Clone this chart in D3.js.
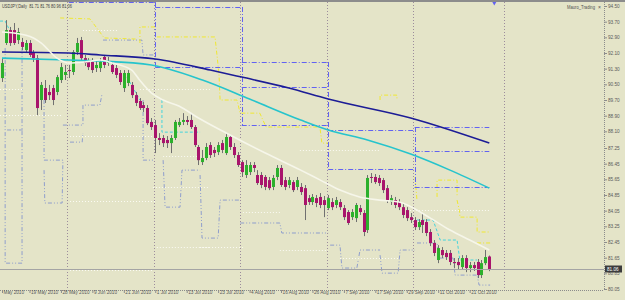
<!DOCTYPE html>
<html><head><meta charset="utf-8">
<script src="https://cdn.jsdelivr.net/npm/d3@7"></script>
<style>html,body{margin:0;padding:0;background:#e4e4c8;}svg{display:block}</style>
</head><body>
<svg id="c" width="625" height="300"></svg>
<script>
// ---- data (daily USDJPY bars, index 0..124) ----
const opens = [90.82,92.61,93.27,93.27,92.76,92.66,92.25,92.61,92.10,91.84,
89.70,90.31,90.11,90.31,90.11,90.72,90.98,91.23,91.13,92.15,
92.76,91.84,91.64,91.64,91.33,91.33,91.90,91.59,91.49,91.33,
91.08,90.31,90.57,90.47,89.95,89.65,89.44,89.29,88.58,88.42,
87.76,87.76,87.66,87.50,87.76,88.42,88.58,88.68,88.68,88.32,
87.30,86.53,86.74,87.40,87.15,87.04,87.50,86.99,87.81,87.30,
86.89,86.53,85.87,86.02,86.38,85.87,85.87,85.77,85.61,85.26,
85.77,86.23,85.61,85.36,85.51,85.26,85.26,85.20,84.69,84.49,
84.69,84.75,84.59,84.18,84.49,84.34,84.49,84.18,83.98,83.72,
83.67,84.18,83.93,83.06,85.77,85.77,85.72,85.61,85.20,84.49,
84.59,84.49,84.23,84.08,83.72,83.57,83.21,83.57,83.47,82.96,
82.40,81.53,82.04,81.89,81.89,81.43,81.43,81.17,81.63,81.12,
81.27,81.43,80.76,81.37,81.71];
const highs = [91.84,93.78,93.43,93.63,93.38,92.87,92.76,92.76,92.25,92.00,
90.62,90.72,90.47,90.47,90.98,91.59,91.49,91.49,92.25,92.87,
92.92,92.00,91.84,91.84,91.74,91.84,92.00,91.90,91.64,91.49,
91.23,91.23,91.23,90.62,90.11,89.80,89.60,89.44,88.78,88.68,
88.01,87.91,87.86,87.91,88.68,88.78,89.03,88.88,89.03,88.42,
87.40,87.15,87.50,87.55,87.30,87.55,87.66,88.01,87.91,87.50,
87.04,86.63,86.63,86.53,86.53,86.12,86.02,85.87,85.77,85.87,
86.38,86.38,85.77,85.77,85.61,85.77,85.46,85.36,84.85,84.90,
84.85,84.95,84.80,84.85,84.69,84.75,84.64,84.34,84.08,84.13,
84.44,84.34,84.08,85.87,85.97,85.92,85.87,85.72,85.36,84.85,
84.75,84.64,84.39,84.23,83.93,83.72,83.62,83.93,83.62,83.11,
82.55,82.29,82.19,82.04,82.04,81.63,81.63,81.78,81.78,81.43,
81.43,81.58,81.53,82.04,81.76];
const lows = [90.62,92.51,92.46,92.51,92.56,92.25,92.10,91.90,91.64,88.93,
89.19,89.55,89.70,89.44,89.95,90.57,90.72,90.82,90.98,92.00,
91.74,91.44,91.23,91.08,91.13,91.13,91.33,91.44,91.03,90.82,
90.47,90.11,90.41,89.80,89.39,89.19,89.09,88.42,88.17,86.99,
87.40,87.30,87.25,86.99,87.66,88.32,88.42,88.42,88.22,87.30,
86.38,86.38,86.63,86.74,86.79,86.89,86.99,86.89,87.15,86.74,
86.28,85.77,85.72,85.87,86.02,85.36,85.20,85.10,85.10,85.10,
85.61,85.26,85.10,85.20,85.00,85.10,84.85,83.57,84.34,84.34,
84.23,84.18,83.72,84.08,84.08,84.18,84.08,83.57,83.32,83.57,
83.47,83.83,82.75,82.91,85.46,85.41,85.31,84.95,84.44,84.34,
84.18,84.08,83.67,83.52,83.42,83.06,83.06,82.91,82.75,82.24,
81.73,81.37,81.63,81.53,81.27,81.12,81.02,81.02,80.91,80.91,
80.97,80.61,80.61,81.27,80.96];
const closes = [91.59,93.27,92.61,92.61,93.17,92.41,92.61,92.00,91.84,89.29,
90.47,89.70,89.95,89.70,90.87,91.38,91.13,91.18,92.15,92.61,
91.84,91.59,91.38,91.23,91.49,91.64,91.49,91.69,91.13,90.98,
90.62,91.08,91.08,89.95,89.55,89.29,89.29,88.52,88.32,87.76,
87.66,87.50,87.50,87.76,88.58,88.58,88.68,88.58,88.32,87.40,
86.63,86.74,87.30,86.89,86.99,87.40,87.15,87.81,87.30,86.89,
86.38,86.02,86.38,86.38,86.23,85.46,85.36,85.26,85.20,85.72,
86.23,85.36,85.26,85.61,85.10,85.61,85.00,84.34,84.49,84.75,
84.44,84.34,84.34,84.69,84.23,84.59,84.23,83.72,83.42,83.98,
84.34,83.98,82.96,85.72,85.72,85.51,85.46,85.10,84.59,84.69,
84.34,84.23,83.83,83.67,83.57,83.21,83.47,83.32,82.91,82.40,
81.89,82.14,81.78,81.68,81.43,81.37,81.27,81.63,81.12,81.27,
81.12,80.76,81.37,81.68,81.06];

// moving averages read at sample bars [bar, price]
const maSlow = [[0,92.15],[17,92.10],[25,92.00],[39,91.79],[53,91.23],[61,90.87],[73,90.31],[83,89.75],[104,88.78],[124,87.50]];
const maMid  = [[0,91.84],[17,91.74],[25,91.69],[38,91.49],[51,90.72],[63,89.75],[76,88.68],[83,88.17],[93,87.66],[104,86.94],[114,86.12],[124,85.20]];
const maFast = [[0,93.17],[3,93.12],[8,92.87],[10,92.61],[14,91.84],[17,91.59],[21,91.64],[25,91.74],[28,91.59],[33,91.23],[35,90.72],[38,90.06],[41,89.70],[45,89.39],[50,88.78],[59,87.81],[67,86.99],[76,86.12],[81,85.61],[86,85.10],[91,84.75],[96,84.59],[101,84.49],[109,83.67],[114,83.06],[119,82.55],[124,82.04]];

// monthly levels (blue)
const monthStart = [17, 39, 61, 83, 105];
const monthEnd   = [39, 61, 83, 105, 124];
const blueLevels = [[94.70],[94.45,91.38],[91.64,90.36,88.42],[88.17,86.18],[88.32,87.09,85.26]];
const separators = [17, 39, 61, 83, 105, 128];

// other indicator step lines, vertices as [bar, price]
const yellowLines = [
 [[14.8,93.89],[22.4,93.84],[26.0,92.87],[34.4,92.81]],
 [[35.1,92.61],[35.1,93.43],[38.9,93.43]],
 [[39.4,92.92],[54.2,92.92],[55.2,91.08],[55.5,89.70],[59.8,89.70],[60.6,89.03],[65.6,89.03],[67.2,88.32],[80.9,88.32],[81.4,87.50],[83.0,87.50]],
 [[96.2,89.70],[96.2,89.95],[100.5,89.95],[100.5,89.70]],
 [[105.1,85.77],[105.6,84.59]],
 [[110.7,84.75],[110.7,85.61],[115.8,85.61],[115.8,84.75]],
 [[115.8,84.59],[116.5,83.93],[116.5,83.72],[120.9,83.72],[120.9,82.96],[124.2,82.96]],
 [[120.9,82.40],[124.2,82.40]]
];
const whiteLevels = [ // [fromBar, toBar, price]
 [20.6,29.3,93.27],[-0.5,5.1,90.26],[35.1,52.9,90.26],[-0.5,15.5,88.93],[17.3,38.4,87.86],
 [41.0,50.4,86.84],[38.4,52.9,85.26],[17.3,39.4,84.54],[39.4,52.9,82.19],[17.3,38.4,81.02],
 [61.3,70.7,83.98],[50.4,61.3,82.19],[70.7,83.0,82.04],[86.0,101.3,81.63],[103.8,124.2,84.08],[75.8,96.2,87.15]
];
const cyanLines = [
 [[-0.5,93.73],[0.8,93.73],[2.3,93.12],[3.3,93.12]],
 [[31.8,90.87],[35.1,89.70]],
 [[40.7,89.70],[40.7,88.06],[50.4,88.06]],
 [[105.6,83.57],[109.7,83.57],[111.5,82.55],[115.8,82.55],[116.5,81.53],[120.9,81.53]]
];
const bandLines = [
 [[0.8,92.35],[0.8,81.37],[5.1,81.37],[5.1,92.35]],
 [[1.3,88.17],[5.3,88.17]],
 [[10.7,89.70],[10.7,86.63],[15.5,86.63]],
 [[10.7,86.12],[10.9,84.44],[15.3,84.44],[15.5,86.63]],
 [[15.5,88.42],[20.6,88.42],[20.6,89.44],[24.9,89.44],[25.4,89.95]],
 [[17.3,87.55],[20.4,87.55],[20.6,88.01]],
 [[25.7,92.76],[35.6,92.76],[35.9,92.00],[38.9,92.00]],
 [[35.9,89.70],[35.9,86.63],[38.9,86.63]],
 [[41.0,86.63],[41.5,84.23],[45.3,84.23],[45.8,86.12],[50.4,86.12]],
 [[50.4,85.87],[50.9,82.65],[55.0,82.65],[55.5,84.59],[60.6,84.59]],
 [[60.6,83.42],[70.7,83.42],[71.2,82.91],[83.0,82.91]],
 [[83.5,82.29],[86.0,82.29],[86.5,81.12],[90.3,81.12],[91.1,82.04],[96.2,82.04]],
 [[96.2,81.78],[96.7,80.86],[100.8,80.86],[101.3,82.04],[105.1,82.04]],
 [[105.6,82.40],[110.7,82.40],[111.2,81.63],[114.8,81.63],[115.3,80.76],[120.9,80.76],[121.4,80.25],[124.2,80.25]]
];

// tick labels
const priceTicks = [94.50,93.70,92.90,92.10,91.30,90.50,89.70,88.90,88.10,87.25,86.45,85.65,84.85,84.05,83.25,82.45,81.65,80.85,80.05];
const dateBars = [0,7,15,23,31,39,47,55,63,71,79,87,95,103,111,119];
const dateLabels = ["May 2010","19 May 2010","28 May 2010","9 Jun 2010","21 Jun 2010","1 Jul 2010","13 Jul 2010","23 Jul 2010","4 Aug 2010","16 Aug 2010","26 Aug 2010","7 Sep 2010","17 Sep 2010","29 Sep 2010","11 Oct 2010","21 Oct 2010"];
const lastPrice = 81.06;
const headerText = "USDJPY,Daily  81.71 81.76 80.96 81.06";
const indicatorName = "Mauro_Trading";

// ---- drawing ----
const svg = d3.select("#c");
const plotR = 604, plotB = 290;
const x = d3.scaleLinear().domain([0,124]).range([2,489.3]);
const y = d3.scaleLinear().domain([80.05,94.50]).range([289,6]);
const font = "'Liberation Sans', Arial, sans-serif";
const fs = 4.7;

svg.append("rect").attr("width",625).attr("height",300).attr("fill","#e4e4c8");
svg.append("defs").append("clipPath").attr("id","pc")
  .append("rect").attr("x",0).attr("y",2).attr("width",plotR).attr("height",plotB-2);
const g = svg.append("g").attr("clip-path","url(#pc)");

// period separators
g.selectAll(".sep").data(separators).join("line")
  .attr("x1",d=>Math.round(x(d)-1.5)+0.5).attr("x2",d=>Math.round(x(d)-1.5)+0.5)
  .attr("y1",2).attr("y2",plotB)
  .attr("stroke","#9c8c9c").attr("stroke-dasharray","1,2");

const pl = d3.line().x(d=>x(d[0])).y(d=>y(d[1]));
function drawSet(data, stroke, dash, op){
  g.append("g").selectAll("path").data(data).join("path")
    .attr("d",pl).attr("fill","none").attr("stroke",stroke).attr("stroke-width",1)
    .attr("stroke-dasharray",dash).attr("opacity",op);
}
drawSet(bandLines,"#8a9acc","4,2,1,2,1,2",0.95);
drawSet(yellowLines,"#f0e830","4,2,1,2",1);
drawSet(cyanLines,"#44d4dc","3,2",1);
g.append("g").selectAll("line").data(whiteLevels).join("line")
  .attr("x1",d=>x(d[0])).attr("x2",d=>x(d[1]))
  .attr("y1",d=>Math.round(y(d[2]))+0.5).attr("y2",d=>Math.round(y(d[2]))+0.5)
  .attr("stroke","#fbfbf4").attr("stroke-dasharray","1,2");

// blue monthly levels
const blueG = g.append("g").attr("stroke","#6262f2").attr("stroke-width",1).attr("fill","none").attr("stroke-dasharray","5,2,1,2");
blueLevels.forEach((lv,m)=>{
  lv.forEach(v=>{
    blueG.append("line").attr("x1",x(monthStart[m])).attr("x2",x(monthEnd[m]))
      .attr("y1",Math.round(y(v))+0.5).attr("y2",Math.round(y(v))+0.5);
  });
  if (m>0){
    const all = lv.concat(blueLevels[m-1]);
    const xx = Math.round(x(monthStart[m]))+0.5;
    blueG.append("line").attr("x1",xx).attr("x2",xx).attr("y1",y(d3.max(all))).attr("y2",y(d3.min(all)));
  }
});

// current price line
svg.append("line").attr("x1",0).attr("x2",plotR).attr("y1",Math.round(y(lastPrice))+0.5).attr("y2",Math.round(y(lastPrice))+0.5)
  .attr("stroke","#a4a4a4").attr("stroke-width",1);

// candles
const idx = d3.range(opens.length);
const cg = g.append("g");
cg.selectAll(".w").data(idx).join("line")
  .attr("x1",i=>Math.round(x(i))+0.5).attr("x2",i=>Math.round(x(i))+0.5)
  .attr("y1",i=>y(highs[i])).attr("y2",i=>y(lows[i]))
  .attr("stroke","#707070").attr("stroke-width",1);
cg.selectAll(".b").data(idx).join("rect")
  .attr("x",i=>Math.round(x(i))-1).attr("width",3)
  .attr("y",i=>y(Math.max(opens[i],closes[i])))
  .attr("height",i=>Math.max(1,Math.abs(y(opens[i])-y(closes[i]))))
  .attr("fill",i=>closes[i]>=opens[i]?"#2cb02c":"#a8146c");

// moving averages
const ln = d3.line().x(d=>x(d[0])).y(d=>y(d[1])).curve(d3.curveMonotoneX);
g.append("path").attr("d",ln(maSlow)).attr("fill","none").attr("stroke","#1c1c96").attr("stroke-width",1.6);
g.append("path").attr("d",ln(maMid)).attr("fill","none").attr("stroke","#26c4cc").attr("stroke-width",1.6);
g.append("path").attr("d",ln(maFast)).attr("fill","none").attr("stroke","#f6f6ea").attr("stroke-width",1.6);

// small shift marker
svg.append("path").attr("d",d3.symbol(d3.symbolTriangle,8)()).attr("transform",`translate(${x(124)+5},3) rotate(180)`).attr("fill","#6262f2");

// frame
svg.append("line").attr("x1",0).attr("x2",625).attr("y1",1).attr("y2",1).attr("stroke","#8c8c8c").attr("stroke-width",2);
svg.append("line").attr("x1",plotR+0.5).attr("x2",plotR+0.5).attr("y1",2).attr("y2",plotB).attr("stroke","#8c8c8c").attr("stroke-dasharray","1,1");
svg.append("line").attr("x1",0).attr("x2",plotR).attr("y1",plotB+0.5).attr("y2",plotB+0.5).attr("stroke","#8c8c8c").attr("stroke-dasharray","1,1");

// y axis
const ya = d3.axisRight(y).tickValues(priceTicks).tickFormat(d3.format(".2f")).tickSize(3).tickPadding(1);
const yg = svg.append("g").attr("transform",`translate(${plotR},0)`).call(ya);
yg.select(".domain").remove();
yg.selectAll("line").attr("stroke","#8c8c8c");
yg.selectAll("text").attr("font-family",font).attr("font-size",fs).attr("fill","#5a5a5a");

// price label
const py = Math.round(y(lastPrice));
svg.append("rect").attr("x",plotR+1).attr("y",py-3.5).attr("width",17).attr("height",7).attr("fill","#3c3c3c");
svg.append("text").attr("x",plotR+3).attr("y",py+2).text(d3.format(".2f")(lastPrice))
  .attr("font-family",font).attr("font-size",fs).attr("fill","#ffffff");

// x axis
const xa = d3.axisBottom(x).tickValues(dateBars).tickFormat((d,i)=>dateLabels[i]).tickSize(3).tickPadding(1);
const xg = svg.append("g").attr("transform",`translate(0,${plotB})`).call(xa);
xg.select(".domain").remove();
xg.selectAll("line").attr("stroke","#8c8c8c");
xg.selectAll("text").attr("font-family",font).attr("font-size",fs).attr("fill","#5a5a5a")
  .attr("text-anchor","start").attr("dx",1).attr("dy","-0.1em");

// texts
svg.append("text").attr("x",2).attr("y",8).text(headerText).attr("font-family",font).attr("font-size",fs)
  .attr("fill","#404040").attr("xml:space","preserve").attr("textLength",70).attr("lengthAdjust","spacingAndGlyphs");
svg.append("text").attr("x",567).attr("y",9).text(indicatorName).attr("font-family",font).attr("font-size",fs)
  .attr("fill","#505050").attr("textLength",28).attr("lengthAdjust","spacingAndGlyphs");
svg.append("text").attr("x",598).attr("y",9).text("×").attr("font-family",font).attr("font-size",5).attr("fill","#505050");
</script>
</body></html>
